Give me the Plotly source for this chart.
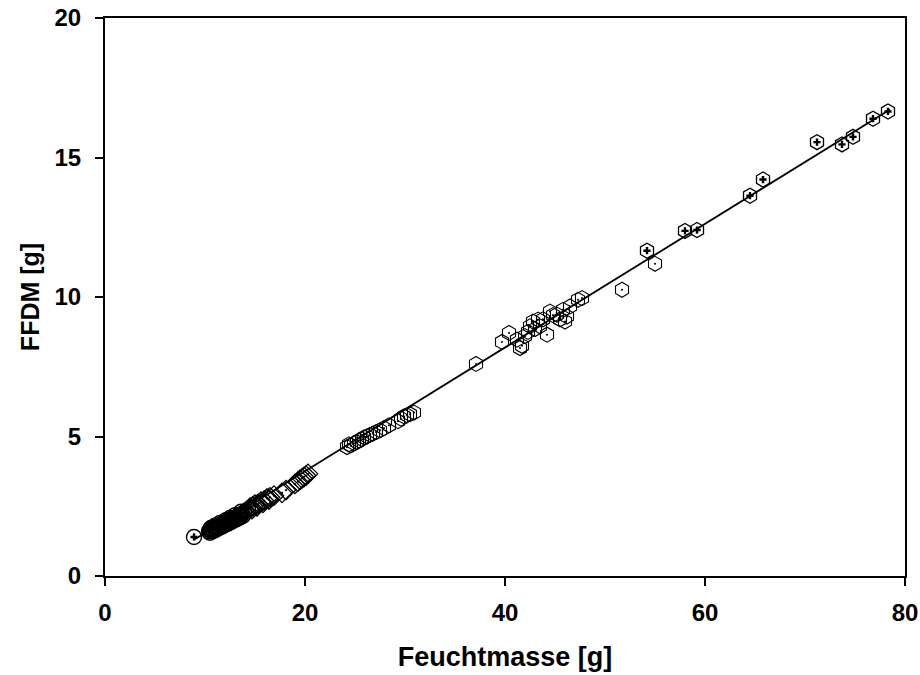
import plotly.graph_objects as go

# ---- data ----
circle_x = [10.4, 10.5, 10.6, 10.7, 10.8, 10.9, 11.0, 11.1, 11.2, 11.3, 11.4, 11.5, 11.6, 11.7, 11.8,
            11.9, 12.0, 12.1, 12.2, 12.3, 12.4, 12.5, 12.6, 12.7, 12.8, 12.9, 13.0, 13.1, 13.2, 13.3,
            13.4, 13.5, 13.7, 13.9, 14.1, 14.3,
            10.5, 10.8, 11.1, 11.4, 11.7, 12.0, 12.3, 12.6, 12.9, 13.2, 13.5, 13.8,
            10.6, 11.0, 11.5, 12.1, 12.5, 13.0, 13.6]
circle_y = [1.60, 1.66, 1.62, 1.70, 1.66, 1.73, 1.70, 1.77, 1.73, 1.80, 1.76, 1.83, 1.80, 1.86, 1.82,
            1.89, 1.86, 1.92, 1.89, 1.96, 1.92, 1.99, 1.96, 2.03, 2.00, 2.07, 2.04, 2.11, 2.08, 2.15,
            2.12, 2.19, 2.22, 2.27, 2.32, 2.38,
            1.55, 1.61, 1.66, 1.72, 1.77, 1.83, 1.88, 1.94, 1.99, 2.05, 2.10, 2.16,
            1.72, 1.80, 1.90, 2.00, 2.08, 2.18, 2.30]

diamond_x = [14.5, 14.8, 15.0, 15.3, 15.6, 15.9, 16.2, 16.5, 16.9, 17.7, 18.1, 19.0, 19.3, 19.5,
             19.7, 19.9, 20.1, 20.3, 14.7, 15.2, 15.8, 16.4]
diamond_y = [2.45, 2.50, 2.56, 2.58, 2.66, 2.70, 2.78, 2.82, 2.88, 2.98, 3.08, 3.30, 3.38, 3.45,
             3.50, 3.55, 3.60, 3.66, 2.40, 2.50, 2.62, 2.74]

hex_x = [24.2, 24.4, 24.6, 24.9, 25.2, 25.4, 25.7, 25.9, 26.2, 26.5, 26.8, 27.1, 27.5, 27.9, 28.4,
         29.3, 29.6, 29.9, 30.2, 30.5, 30.9,
         37.1, 39.7, 40.4, 41.2, 41.5, 41.7, 42.0, 42.3, 42.5, 42.8, 43.0, 43.3, 43.5, 43.8, 44.2,
         44.5, 44.8, 45.2, 45.5, 45.8, 46.0, 46.2, 46.5, 47.3, 47.7, 51.7, 55.0]
hex_y = [4.62, 4.72, 4.68, 4.76, 4.80, 4.86, 4.90, 4.97, 5.00, 5.06, 5.10, 5.16, 5.22, 5.30, 5.40,
         5.55, 5.64, 5.72, 5.76, 5.80, 5.86,
         7.60, 8.39, 8.71, 8.47, 8.17, 8.25, 8.60, 8.75, 8.95, 9.12, 8.85, 9.19, 8.95, 9.20, 8.65,
         9.48, 9.35, 9.37, 9.20, 9.54, 9.12, 9.30, 9.66, 9.90, 9.96, 10.26, 11.19]

bold_hex_x = [54.2, 58.0, 59.2, 64.5, 65.8, 71.2, 73.7, 74.8, 76.8, 78.3]
bold_hex_y = [11.66, 12.37, 12.40, 13.63, 14.21, 15.55, 15.47, 15.74, 16.39, 16.65]

first_x = [8.9]
first_y = [1.40]

# regression line
fit_slope = 0.2216
fit_intercept = -0.674
fit_x = [8.9, 78.5]
fit_y = [fit_slope * v + fit_intercept for v in fit_x]

x_ticks = [0, 20, 40, 60, 80]
y_ticks = [0, 5, 10, 15, 20]

FONT = "Liberation Sans, Arial, sans-serif"

fig = go.Figure()

fig.add_trace(go.Scatter(x=circle_x, y=circle_y, mode="markers",
                         marker=dict(symbol="circle-open-dot", size=15, color="black",
                                     line=dict(width=1.5, color="black")),
                         showlegend=False))
fig.add_trace(go.Scatter(x=diamond_x, y=diamond_y, mode="markers",
                         marker=dict(symbol="diamond-open-dot", size=15, color="black",
                                     line=dict(width=1.3, color="black")),
                         showlegend=False))
fig.add_trace(go.Scatter(x=hex_x, y=hex_y, mode="markers",
                         marker=dict(symbol="hexagon-open-dot", size=15, color="black",
                                     line=dict(width=1.1, color="black")),
                         showlegend=False))
fig.add_trace(go.Scatter(x=bold_hex_x, y=bold_hex_y, mode="markers",
                         marker=dict(symbol="hexagon-open", size=15, color="black",
                                     line=dict(width=1.3, color="black")),
                         showlegend=False))
fig.add_trace(go.Scatter(x=bold_hex_x, y=bold_hex_y, mode="markers",
                         marker=dict(symbol="cross", size=6, color="black", line=dict(width=0)),
                         showlegend=False))
fig.add_trace(go.Scatter(x=first_x, y=first_y, mode="markers",
                         marker=dict(symbol="circle-open", size=15, color="black",
                                     line=dict(width=1.4, color="black")),
                         showlegend=False))
fig.add_trace(go.Scatter(x=first_x, y=first_y, mode="markers",
                         marker=dict(symbol="cross", size=6, color="black", line=dict(width=0)),
                         showlegend=False))
fig.add_trace(go.Scatter(x=fit_x, y=fit_y, mode="lines",
                         line=dict(color="black", width=1.8), showlegend=False))

fig.update_layout(
    width=920, height=675,
    margin=dict(l=105, r=15, t=18, b=99, autoexpand=False),
    paper_bgcolor="white", plot_bgcolor="white",
    font=dict(family=FONT, color="black"),
)
fig.update_xaxes(
    range=[0, 80], tickvals=x_ticks, ticktext=[str(v) for v in x_ticks],
    automargin=False, ticklabelstandoff=6,
    showgrid=False, zeroline=False, showline=True, linecolor="black", linewidth=2,
    mirror=True, ticks="outside", ticklen=8, tickwidth=2, tickcolor="black",
    tickfont=dict(family=FONT, size=24, color="black", weight="bold"),
    title=dict(text="<b>Feuchtmasse [g]</b>", font=dict(family=FONT, size=27, color="black"),
               standoff=22),
)
fig.update_yaxes(
    range=[0, 20], tickvals=y_ticks, ticktext=[str(v) for v in y_ticks],
    automargin=False, ticklabelstandoff=9,
    showgrid=False, zeroline=False, showline=True, linecolor="black", linewidth=2,
    mirror=True, ticks="outside", ticklen=8, tickwidth=2, tickcolor="black",
    tickfont=dict(family=FONT, size=24, color="black", weight="bold"),
    title=dict(text="<b>FFDM [g]</b>", font=dict(family=FONT, size=25, color="black"),
               standoff=8),
)

fig.write_html("out.html")
